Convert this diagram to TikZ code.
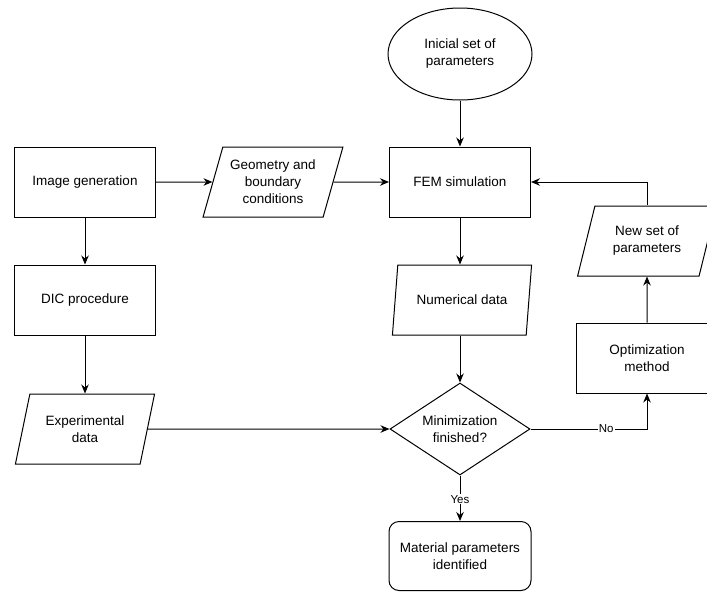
\documentclass[tikz,border=0pt]{standalone}
\usepackage{fontspec}
\setmainfont{Liberation Sans}
\usetikzlibrary{arrows.meta,shapes.geometric}

\begin{document}
\begin{tikzpicture}[x=1pt, y=-1pt, line width=1pt,
    >={Stealth[length=9pt,width=7.5pt]},
    every node/.style={font=\fontsize{13.5}{17}\selectfont, align=center},
    proc/.style={draw, rectangle, minimum width=141pt, minimum height=70pt, inner sep=0pt},
    io/.style={draw, trapezium, trapezium left angle=69, trapezium right angle=111,
        trapezium stretches=true, minimum width=140pt, minimum height=70pt, inner sep=0pt},
    lbl/.style={fill=white, inner sep=1pt, font=\fontsize{11.5}{13}\selectfont}]
    \useasboundingbox (0, 0) rectangle (707, 592);
    \clip (0, 0) rectangle (707, 592);

    \node[draw, ellipse, minimum width=144pt, minimum height=92pt, inner sep=0pt]
        (init) at (460, 54) {Inicial set of\\parameters};
    \node[proc] (imggen) at (85, 182) {Image generation};
    \node[io] (geom) at (273, 182) {Geometry and\\boundary\\conditions};
    \node[proc] (fem) at (460, 182) {FEM simulation};
    \node[proc] (dic) at (85, 300) {DIC procedure};
    \node[io] (numdata) at (462, 300) {Numerical data};
    \node[io] (expdata) at (85, 429) {Experimental\\data};
    \node[draw, diamond, aspect=1.52, minimum width=140pt, minimum height=92pt, inner sep=0pt]
        (minim) at (460, 429) {Minimization\\finished?};
    \node[draw, rectangle, rounded corners=10pt, minimum width=142pt, minimum height=69pt, inner sep=0pt]
        (matpar) at (460, 556) {Material parameters\\identified};
    \node[proc] (optim) at (647, 358) {Optimization\\method};
    \node[io] (newset) at (647, 241) {New set of\\parameters};

    \draw[->] (init) -- (fem);
    \draw[->] (imggen) -- (geom);
    \draw[->] (geom) -- (fem);
    \draw[->] (imggen) -- (dic);
    \draw[->] (dic) -- (dic |- expdata.north);
    \draw[->] (fem) -- (fem |- numdata.north);
    \draw[->] (fem |- numdata.south) -- (minim);
    \draw[->] (expdata) -- (minim);
    \draw[->] (minim.east) -| node[lbl, pos=0.325] {No} (optim.south);
    \draw[->] (minim.south) -- node[lbl, pos=0.52] {Yes} (matpar.north);
    \draw[->] (optim.north) -- (newset.south);
    \draw[->] (newset.north) |- (fem.east);
\end{tikzpicture}
\end{document}
